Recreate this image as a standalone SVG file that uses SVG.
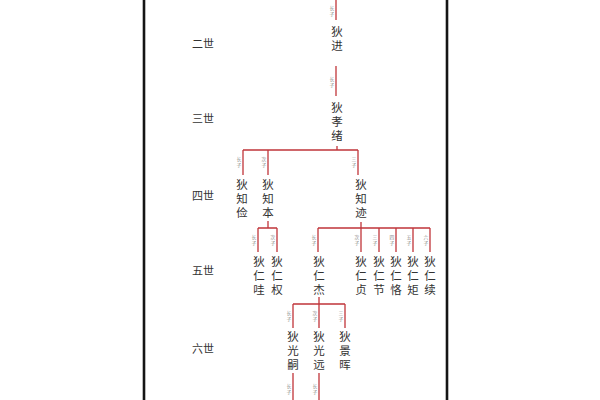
<svg xmlns="http://www.w3.org/2000/svg" width="600" height="400" viewBox="0 0 600 400">
<style>
.bg{fill:#fff}
.border{stroke:#151515;stroke-width:2.6}
.gen{font-family:"Noto Sans CJK SC","Noto Sans CJK JP",sans-serif;font-size:11px;fill:#333;text-anchor:middle;dominant-baseline:central}
.nm{font-family:"Noto Sans CJK SC","Noto Sans CJK JP",sans-serif;font-size:11.5px;fill:#333;writing-mode:vertical-rl;letter-spacing:2.5px}
.tag{font-family:"Noto Sans CJK SC","Noto Sans CJK JP",sans-serif;font-size:4.8px;fill:#888;writing-mode:vertical-rl;letter-spacing:1.2px}
.ln{stroke:#c0353a;stroke-width:1.3;fill:none}
</style>
<rect class="bg" x="0" y="0" width="600" height="400"/>
<line class="border" x1="144" y1="0" x2="144" y2="400"/>
<line class="border" x1="447" y1="0" x2="447" y2="400"/>

<g id="generations">
<text class="gen" x="203" y="43">二世</text>
<text class="gen" x="203" y="118">三世</text>
<text class="gen" x="203" y="195">四世</text>
<text class="gen" x="203" y="270">五世</text>
<text class="gen" x="203" y="348">六世</text>
</g>

<g id="connectors">
<path class="ln" d="M336 0V20"/>
<path class="ln" d="M336 66V96"/>
<path class="ln" d="M337 146V150M243 150H358M243 150V175M268 150V175M358 150V175"/>
<path class="ln" d="M268 221V228M258 228H277M258 228V252M277 228V252"/>
<path class="ln" d="M361 222V252M318 228H430M318 228V252M379 228V252M396 228V252M413 228V252M430 228V252"/>
<path class="ln" d="M319 297V328M293 304H345M293 304V328M345 304V328"/>
<path class="ln" d="M293 373V400M319 373V400"/>
<g id="tags">
<text class="tag" x="332" y="6">长子</text>
<text class="tag" x="332" y="77">长子</text>
<text class="tag" x="239" y="157">长子</text>
<text class="tag" x="264" y="157">次子</text>
<text class="tag" x="354" y="157">三子</text>
<text class="tag" x="254" y="235">长子</text>
<text class="tag" x="273" y="235">次子</text>
<text class="tag" x="314" y="235">长子</text>
<text class="tag" x="357" y="235">次子</text>
<text class="tag" x="375" y="235">三子</text>
<text class="tag" x="392" y="235">四子</text>
<text class="tag" x="409" y="235">五子</text>
<text class="tag" x="426" y="235">六子</text>
<text class="tag" x="289" y="311">长子</text>
<text class="tag" x="315" y="311">次子</text>
<text class="tag" x="341" y="311">三子</text>
<text class="tag" x="289" y="384">长子</text>
<text class="tag" x="315" y="384">长子</text>
</g>
</g>

<g id="n-jin"><text class="nm" x="337" y="26">狄进</text></g>
<g id="n-xiaoxu"><text class="nm" x="337" y="102">狄孝绪</text></g>

<g id="n-zhijian"><text class="nm" x="242" y="179">狄知俭</text></g>
<g id="n-zhiben"><text class="nm" x="268" y="179">狄知本</text></g>
<g id="n-zhiji"><text class="nm" x="361" y="179">狄知迹</text></g>

<g id="n-renwa"><text class="nm" x="259" y="256">狄仁哇</text></g>
<g id="n-renquan"><text class="nm" x="277" y="256">狄仁权</text></g>
<g id="n-renjie"><text class="nm" x="319" y="256">狄仁杰</text></g>
<g id="n-renzhen"><text class="nm" x="361" y="256">狄仁贞</text></g>
<g id="n-renjie2"><text class="nm" x="379" y="256">狄仁节</text></g>
<g id="n-renke"><text class="nm" x="396" y="256">狄仁恪</text></g>
<g id="n-renju"><text class="nm" x="413" y="256">狄仁矩</text></g>
<g id="n-renxu"><text class="nm" x="430" y="256">狄仁续</text></g>

<g id="n-guangsi"><text class="nm" x="293" y="331">狄光嗣</text></g>
<g id="n-guangyuan"><text class="nm" x="319" y="331">狄光远</text></g>
<g id="n-jinghui"><text class="nm" x="345" y="331">狄景晖</text></g>
</svg>
